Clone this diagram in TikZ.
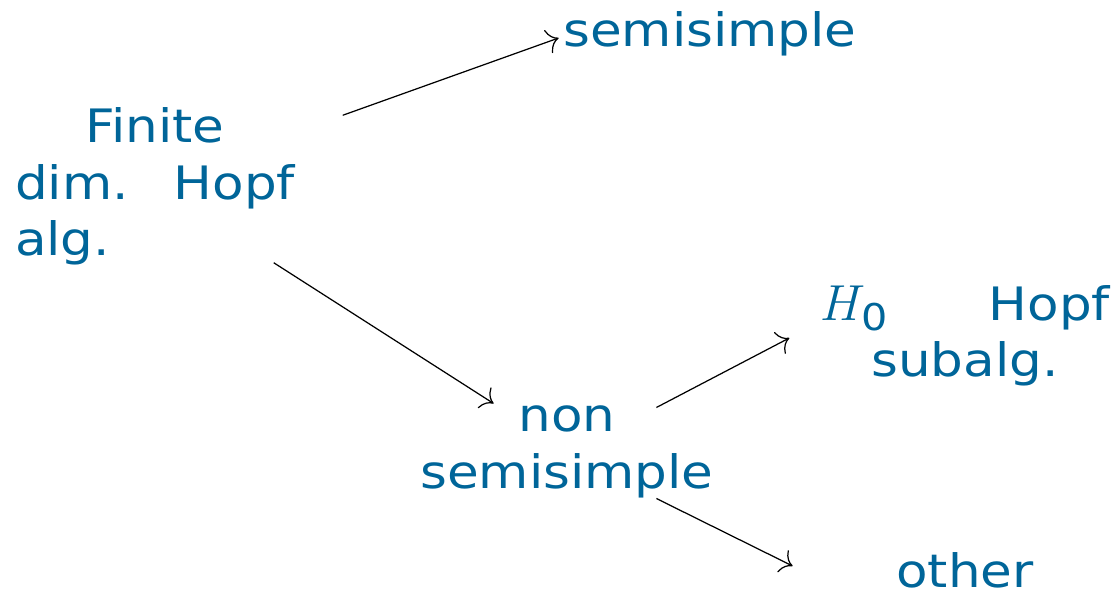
\documentclass[tikz,border=0pt]{standalone}
\usepackage{amsmath}
\usepackage{fontspec}
\setsansfont{DejaVu Sans}[FakeStretch=1.12]
\usepackage{xcolor}
\usetikzlibrary{arrows.meta}

\definecolor{hopfblue}{RGB}{0,101,153}
\newcommand{\spreadline}[3]{\makebox[#1]{#2\hfill #3}}
\newcommand{\bigmath}[1]{{\fontsize{15}{16}\selectfont$#1$}}

\begin{document}
\begin{tikzpicture}[
  txt/.style={inner sep=0pt, text=hopfblue, font=\sffamily\fontsize{13.1}{16}\selectfont},
  arr/.style={-{To[length=3.2pt, width=7pt]}, line width=0.35pt}
]
  \useasboundingbox (0,0) rectangle (11.2,5.94);

  \node[txt, text width=2.8cm, align=center] (fin) at (1.55,4.075)
    {Finite\\ \spreadline{2.8cm}{dim.}{Hopf}\\ \makebox[2.8cm][l]{alg.}};
  \node[txt] (semi) at (7.10,5.60) {semisimple};
  \node[txt, align=center] (non) at (5.67,1.42) {non\\ semisimple};
  \node[txt, text width=2.9cm, align=center] (hsub) at (9.65,2.58)
    {\spreadline{2.9cm}{\bigmath{H_{\mathsf{0}}}}{Hopf}\\ subalg.};
  \node[txt] (other) at (9.65,0.24) {other};

  % arrows out of the left block
  \draw[arr] ([shift={(0.47,-0.08)}]fin.north east) -- ([shift={(-0.04,-0.04)}]semi.west);
  \draw[arr] ([shift={(-0.22,0.03)}]fin.south east) -- ([shift={(0.74,0.02)}]non.north west);

  % arrows out of the non semisimple block
  \draw[arr] ([shift={(-0.58,-0.02)}]non.north east) -- ([shift={(-0.30,-0.02)}]hsub.west);
  \draw[arr] ([shift={(-0.58,0)}]non.south east) -- ([shift={(-1.03,0.04)}]other.west);
\end{tikzpicture}
\end{document}
